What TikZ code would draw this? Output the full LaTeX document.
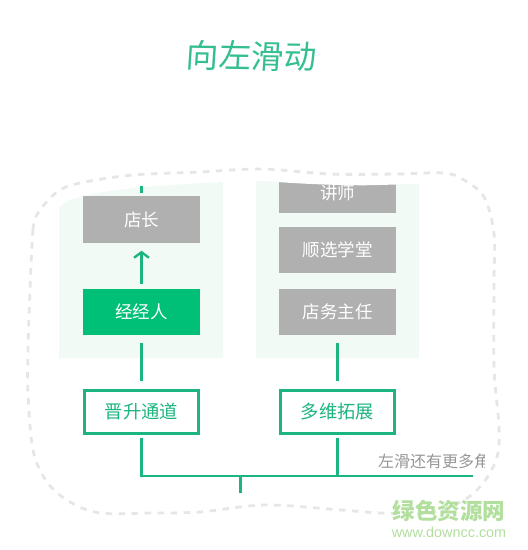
\documentclass[tikz,border=0pt]{standalone}
\usepackage{fontspec}
\usetikzlibrary{arrows.meta}
\newfontfamily\cjk{Noto Sans CJK SC}
\newfontfamily\cjktitle[FakeSlant=0.05]{Noto Sans CJK SC}
\setmainfont{Liberation Sans}
\definecolor{gline}{HTML}{1DB57F}
\definecolor{gfill}{HTML}{00C078}
\definecolor{gbox}{HTML}{B0B0B0}
\definecolor{panel}{HTML}{F2FAF6}
\definecolor{dashc}{HTML}{E6E6E6}
\definecolor{wm}{HTML}{B2DF9E}
\definecolor{titlec}{HTML}{35BE8E}
\tikzset{
  graybox/.style={fill=gbox,text=white,minimum width=117pt,minimum height=46.5pt,inner sep=0pt,outer sep=0pt,font=\cjk\fontsize{17.5}{17.5}\selectfont},
  greenbox/.style={graybox,fill=gfill},
  linebox/.style={draw=gline,line width=3pt,fill=white,text=gline,minimum width=113.5pt,minimum height=43pt,inner sep=0pt,outer sep=1.5pt,font=\cjk\fontsize{18.3}{18.3}\selectfont},
  conn/.style={draw=gline,line width=2.6pt},
  gapped/.style={conn,shorten <=8pt,shorten >=8pt},
}
\begin{document}
\begin{tikzpicture}[x=1pt,y=-1pt]
\useasboundingbox (0,0) rectangle (528,550);
% pale panels
\fill[panel] (59,358) -- (59,208) .. controls (68,197) and (90,193) .. (142,187) .. controls (170,185) and (200,183) .. (223,182) -- (223,358) -- cycle;
\fill[panel] (256,181) rectangle (419,358);
% grey and green boxes
\node[graybox] (dz) at (141.5,219.5) {店长};
\node[greenbox] (jjr) at (141.5,312) {经经人};
\node[graybox,minimum height=38.5pt] (js) at (337.5,193.25) {讲师};
\node[graybox] (sx) at (337.5,250) {顺选学堂};
\node[graybox] (dw) at (337.5,312) {店务主任};
% mask above the right panel
\fill[white] (250,170) -- (250,180) -- (264,181) .. controls (300,184) and (350,186) .. (380,185) .. controls (395,184.5) and (410,184) .. (425,184) -- (425,170) -- cycle;
% dashed outline
\draw[dashc,line width=2.8pt,dash pattern=on 6.5pt off 6.5pt]
  plot[smooth cycle,tension=0.55] coordinates {
   (30,290) (33,230) (38,213) (57,192) (80,183) (133,175) (200,172) (262,169)
   (330,174) (397,174) (444,173) (464,180) (484,197) (494,233) (494,283) (494,367)
   (499,427) (497,457) (484,482) (464,500) (430,513) (381,513) (341,510) (265,505)
   (200,512) (150,513) (100,513) (70,502) (47,482) (33,450) (28,393) (28,350)};
% label boxes
\node[linebox] (jsh) at (141.5,411.5) {晋升通道};
\node[linebox] (dwt) at (337.5,411.5) {多维拓展};
% free ends
\coordinate (tick) at (141.5,186);
\coordinate (busL) at (141.5,476);
\coordinate (busR) at (473,476);
\coordinate (busM) at (240.5,476);
\coordinate (stem) at (240.5,493);
\coordinate (busD) at (337.5,476);
% connectors
\draw[conn,shorten >=3pt] (tick) -- (dz.north);
\draw[draw=gline,line width=2.4pt,shorten <=5pt,shorten >=8pt,-{Straight Barb[length=5.5pt,width=15pt,line width=2.4pt]}] (jjr.north) -- (dz.south);
\draw[gapped] (jjr.south) -- (jsh.north);
\draw[gapped] (dw.south) -- (dwt.north);
\draw[conn,shorten <=3pt] (jsh.south) -- (busL) -- (busR);
\draw[conn,shorten <=3pt] (dwt.south) -- (busD);
\draw[conn] (busM) -- (stem);
% title
\node[text=titlec,font=\cjktitle\fontsize{32.5}{33}\selectfont,inner sep=0pt,rotate=-1] (title) at (251,56) {向左滑动};
% clipped hint
\begin{scope}
\clip (370,445) rectangle (484.5,472);
\node[anchor=west,text=gbox!85!black,font=\cjk\fontsize{16}{16}\selectfont,inner sep=0pt] (hint) at (378,461) {左滑还有更多角};
\end{scope}
% watermark
\node[text=wm,font=\cjk\bfseries\fontsize{22.5}{23}\selectfont,inner sep=0pt] (wm1) at (449,511) {绿色资源网};
\node[text=wm,font=\fontsize{14.4}{15}\selectfont,inner sep=0pt] (wm2) at (449,532) {www.downcc.com};
\end{tikzpicture}
\end{document}
